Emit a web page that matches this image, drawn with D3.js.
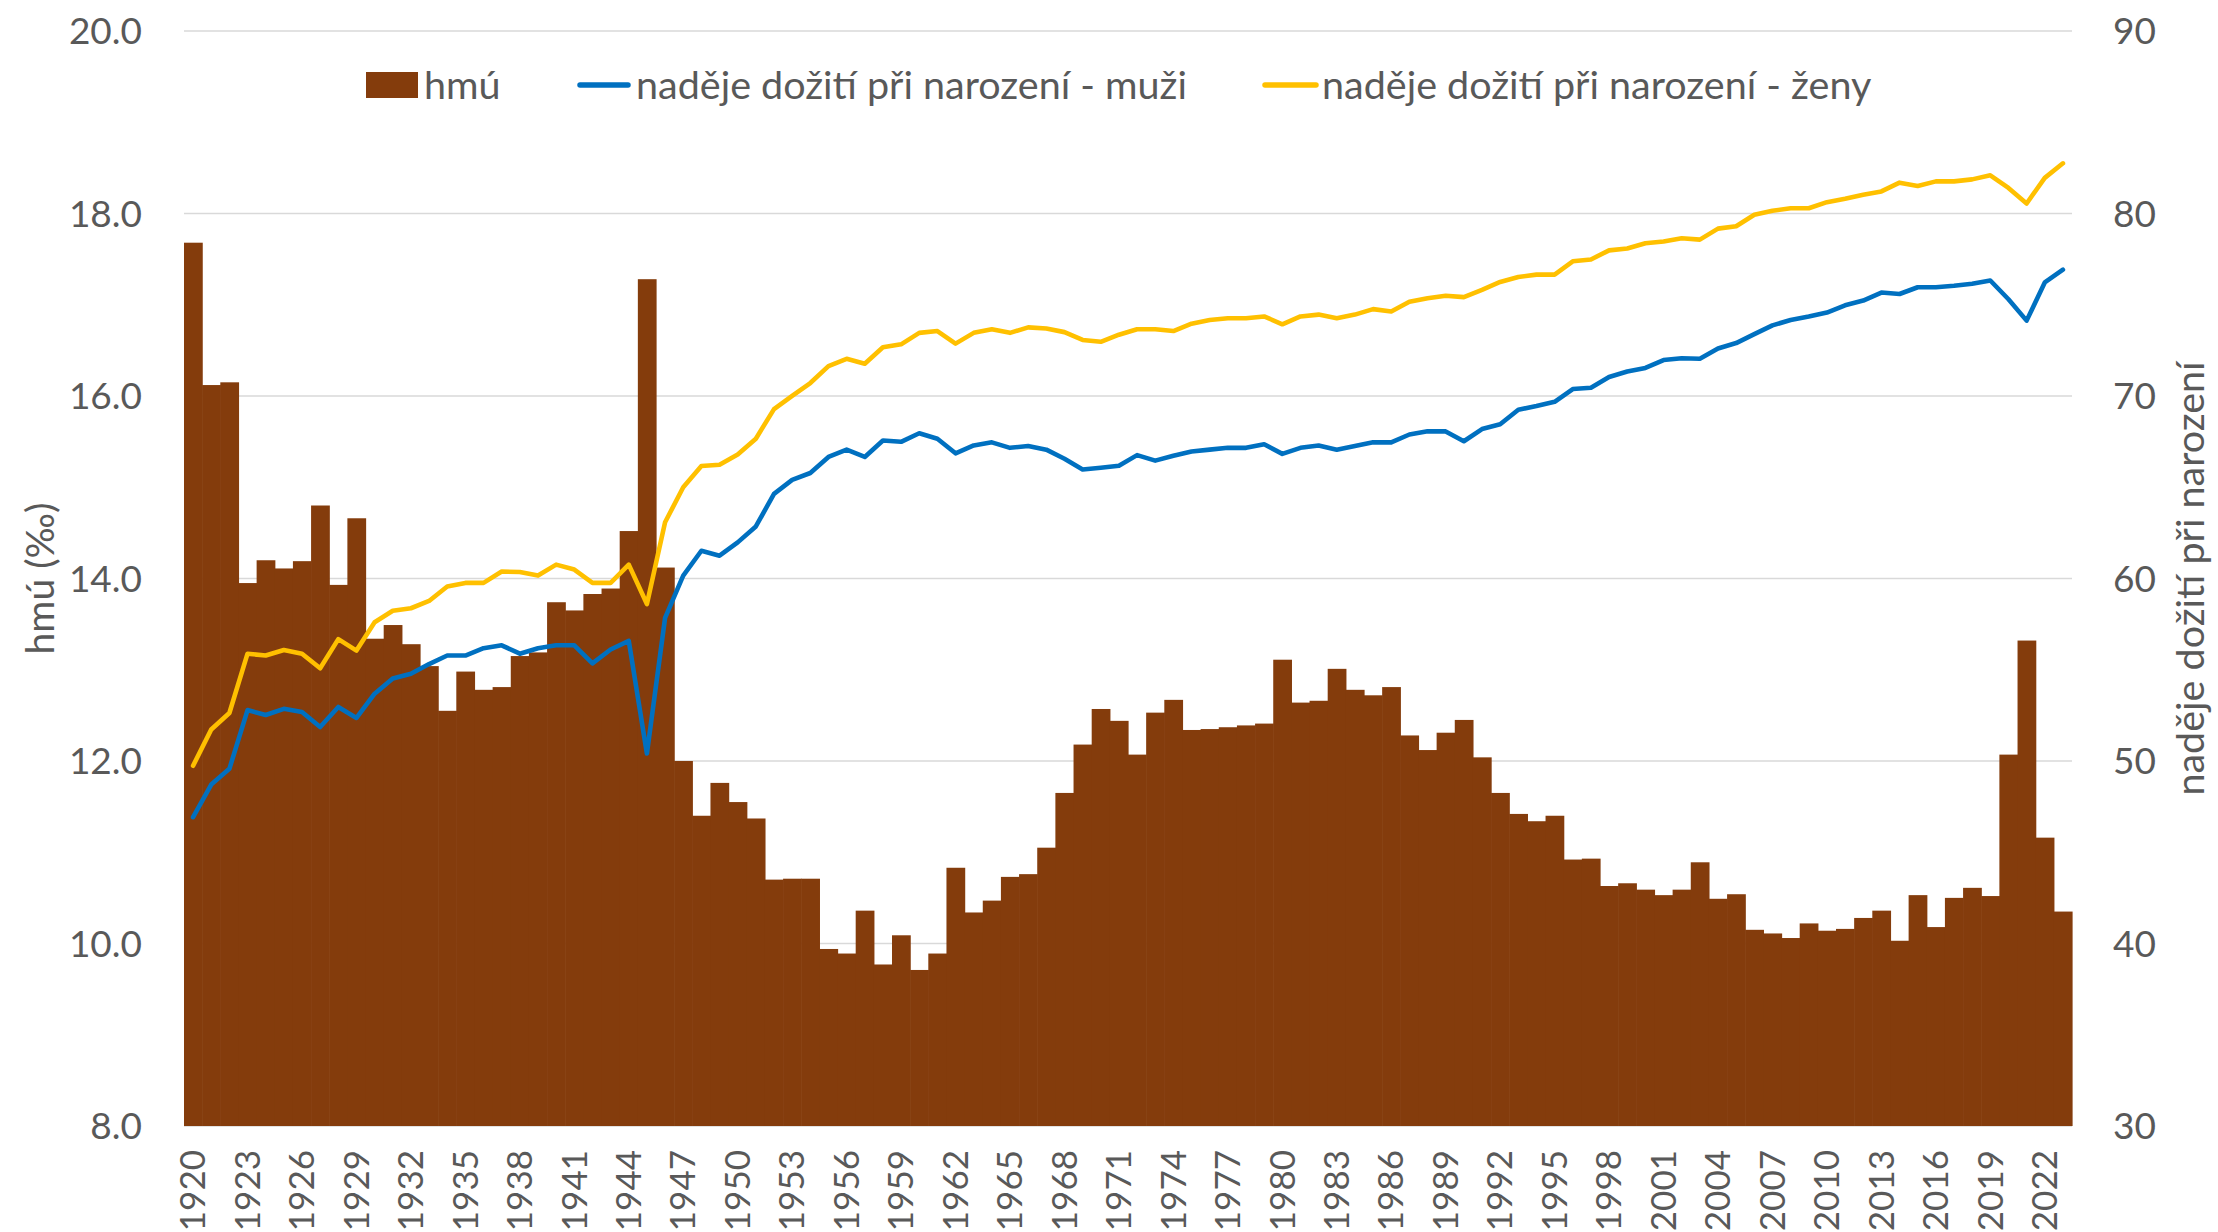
<!DOCTYPE html>
<html>
<head>
<meta charset="utf-8">
<script src="https://cdn.jsdelivr.net/npm/d3@7/dist/d3.min.js"></script>
<style>
  html, body { margin: 0; padding: 0; background: #ffffff; }
  svg text { font-family: Lato, "Open Sans", sans-serif; fill: #595959; }
</style>
</head>
<body>
<svg id="chart" width="2218" height="1232"></svg>
<script>
// ---- data ----
const years = d3.range(1920, 2024);

const hmu = [
  17.68, 16.12, 16.15, 13.95, 14.20, 14.11, 14.19, 14.80, 13.93, 14.66,
  13.34, 13.49, 13.28, 13.04, 12.55, 12.98, 12.78, 12.81, 13.15, 13.19,
  13.74, 13.65, 13.83, 13.89, 14.52, 17.28, 14.12, 12.00, 11.40, 11.76,
  11.55, 11.37, 10.70, 10.71, 10.71, 9.94, 9.89, 10.36, 9.77, 10.09,
  9.71, 9.89, 10.83, 10.34, 10.47, 10.73, 10.76, 11.05, 11.65, 12.18,
  12.57, 12.44, 12.07, 12.53, 12.67, 12.34, 12.35, 12.37, 12.39, 12.41,
  13.11, 12.64, 12.66, 13.01, 12.78, 12.72, 12.81, 12.28, 12.12, 12.31,
  12.45, 12.04, 11.65, 11.42, 11.34, 11.40, 10.92, 10.93, 10.63, 10.66,
  10.59, 10.53, 10.59, 10.89, 10.49, 10.54, 10.15, 10.11, 10.06, 10.22,
  10.14, 10.16, 10.28, 10.36, 10.03, 10.53, 10.18, 10.50, 10.61, 10.52,
  12.07, 13.32, 11.16, 10.35
];

const lifeMen = [
  46.92, 48.71, 49.57, 52.79, 52.52, 52.86, 52.69, 51.86, 52.96, 52.36,
  53.69, 54.52, 54.78, 55.31, 55.78, 55.78, 56.18, 56.34, 55.88, 56.18,
  56.34, 56.34, 55.35, 56.11, 56.58, 50.41, 57.84, 60.16, 61.52, 61.25,
  61.98, 62.85, 64.64, 65.40, 65.78, 66.66, 67.06, 66.66, 67.56, 67.49,
  67.96, 67.66, 66.86, 67.29, 67.46, 67.16, 67.26, 67.06, 66.56, 65.97,
  66.07, 66.18, 66.76, 66.46, 66.73, 66.96, 67.06, 67.16, 67.16, 67.36,
  66.83, 67.16, 67.29, 67.06, 67.26, 67.46, 67.46, 67.89, 68.07, 68.06,
  67.52, 68.19, 68.45, 69.25, 69.45, 69.68, 70.38, 70.45, 71.04, 71.34,
  71.54, 71.97, 72.07, 72.04, 72.60, 72.90, 73.39, 73.87, 74.16, 74.35,
  74.57, 74.97, 75.23, 75.67, 75.59, 75.96, 75.96, 76.04, 76.15, 76.33,
  75.30, 74.13, 76.22, 76.92
];

const lifeWomen = [
  49.74, 51.73, 52.63, 55.88, 55.78, 56.08, 55.88, 55.08, 56.68, 56.05,
  57.60, 58.23, 58.37, 58.77, 59.56, 59.76, 59.76, 60.38, 60.36, 60.16,
  60.76, 60.49, 59.76, 59.76, 60.76, 58.60, 63.08, 65.00, 66.16, 66.23,
  66.79, 67.66, 69.28, 70.01, 70.71, 71.64, 72.04, 71.77, 72.67, 72.83,
  73.46, 73.56, 72.87, 73.46, 73.66, 73.46, 73.76, 73.70, 73.50, 73.07,
  72.97, 73.36, 73.66, 73.66, 73.56, 73.96, 74.16, 74.26, 74.26, 74.36,
  73.93, 74.36, 74.46, 74.26, 74.46, 74.76, 74.63, 75.16, 75.36, 75.49,
  75.42, 75.82, 76.25, 76.52, 76.65, 76.65, 77.38, 77.48, 77.98, 78.08,
  78.37, 78.47, 78.64, 78.57, 79.17, 79.30, 79.93, 80.15, 80.29, 80.29,
  80.62, 80.81, 81.03, 81.21, 81.69, 81.51, 81.76, 81.76, 81.87, 82.09,
  81.40, 80.55, 81.95, 82.75
];

const leftTicks = [8, 10, 12, 14, 16, 18, 20];
const rightTicks = [30, 40, 50, 60, 70, 80, 90];
const xTickYears = years.filter((y, i) => i % 3 === 0);

const seriesNames = ["hmú", "naděje dožití při narození - muži", "naděje dožití při narození - ženy"];
const leftTitle = "hmú (‰)";
const rightTitle = "naděje dožití při narození";

// ---- layout ----
const colors = { bar: "#843C0C", men: "#0070C0", women: "#FFC000", grid: "#D9D9D9" };
const plot = { left: 184, right: 2072, top: 31, bottom: 1126 };

const svg = d3.select("#chart");

const x = d3.scaleBand().domain(years).range([plot.left, plot.right]).padding(0);
const yL = d3.scaleLinear().domain([8, 20]).range([plot.bottom, plot.top]);
const yR = d3.scaleLinear().domain([30, 90]).range([plot.bottom, plot.top]);

// gridlines
svg.append("g")
  .selectAll("line")
  .data(leftTicks)
  .join("line")
  .attr("x1", plot.left).attr("x2", plot.right)
  .attr("y1", d => yL(d)).attr("y2", d => yL(d))
  .attr("stroke", colors.grid).attr("stroke-width", 1.6);

// left axis
const axL = d3.axisLeft(yL).tickValues(leftTicks).tickFormat(d3.format(".1f")).tickSize(0).tickPadding(42);
const gL = svg.append("g").attr("transform", `translate(${plot.left},0)`).call(axL);
gL.select(".domain").remove();
gL.selectAll("text").style("font-size", "37px").attr("dy", "0.35em");

// right axis
const axR = d3.axisRight(yR).tickValues(rightTicks).tickFormat(d3.format("d")).tickSize(0).tickPadding(41);
const gR = svg.append("g").attr("transform", `translate(${plot.right},0)`).call(axR);
gR.select(".domain").remove();
gR.selectAll("text").style("font-size", "37px").attr("dy", "0.35em");

// bars
svg.append("g")
  .selectAll("rect")
  .data(years)
  .join("rect")
  .attr("x", d => x(d))
  .attr("width", x.bandwidth() + 0.6)
  .attr("y", (d, i) => yL(hmu[i]))
  .attr("height", (d, i) => yL(8) - yL(hmu[i]))
  .attr("fill", colors.bar);

// lines
const lineGen = (arr) => d3.line()
  .x((d, i) => x(years[i]) + x.bandwidth() / 2)
  .y(d => yR(d))(arr);

svg.append("path")
  .attr("d", lineGen(lifeMen))
  .attr("fill", "none").attr("stroke", colors.men)
  .attr("stroke-width", 4.6).attr("stroke-linejoin", "round").attr("stroke-linecap", "round");

svg.append("path")
  .attr("d", lineGen(lifeWomen))
  .attr("fill", "none").attr("stroke", colors.women)
  .attr("stroke-width", 4.6).attr("stroke-linejoin", "round").attr("stroke-linecap", "round");

// x axis labels
const axX = d3.axisBottom(x).tickValues(xTickYears).tickSize(0).tickPadding(0);
const gX = svg.append("g").attr("transform", `translate(0,${plot.bottom})`).call(axX);
gX.select(".domain").remove();
gX.selectAll("text")
  .style("font-size", "35px")
  .attr("text-anchor", "end")
  .attr("transform", "rotate(-90)")
  .attr("x", -24)
  .attr("y", 0)
  .attr("dy", "0.35em");

// axis titles
svg.append("text")
  .attr("transform", `translate(40,${(plot.top + plot.bottom) / 2}) rotate(-90)`)
  .attr("text-anchor", "middle").attr("dy", "0.35em")
  .style("font-size", "39px")
  .text(leftTitle);

svg.append("text")
  .attr("transform", `translate(2190,${(plot.top + plot.bottom) / 2}) rotate(-90)`)
  .attr("text-anchor", "middle").attr("dy", "0.35em")
  .style("font-size", "39.5px")
  .text(rightTitle);

// legend
const legendY = 85;
const legendFont = "39.5px";
const lg = svg.append("g");
lg.append("rect").attr("x", 366).attr("y", legendY - 13).attr("width", 52).attr("height", 26).attr("fill", colors.bar);
lg.append("text").attr("x", 424).attr("y", legendY).attr("dy", "0.35em").style("font-size", legendFont).text(seriesNames[0]);

lg.append("line").attr("x1", 580).attr("x2", 628).attr("y1", legendY).attr("y2", legendY)
  .attr("stroke", colors.men).attr("stroke-width", 5.5).attr("stroke-linecap", "round");
lg.append("text").attr("x", 636).attr("y", legendY).attr("dy", "0.35em").style("font-size", legendFont).text(seriesNames[1]);

lg.append("line").attr("x1", 1265).attr("x2", 1316).attr("y1", legendY).attr("y2", legendY)
  .attr("stroke", colors.women).attr("stroke-width", 5.5).attr("stroke-linecap", "round");
lg.append("text").attr("x", 1322).attr("y", legendY).attr("dy", "0.35em").style("font-size", legendFont).text(seriesNames[2]);
</script>
</body>
</html>
